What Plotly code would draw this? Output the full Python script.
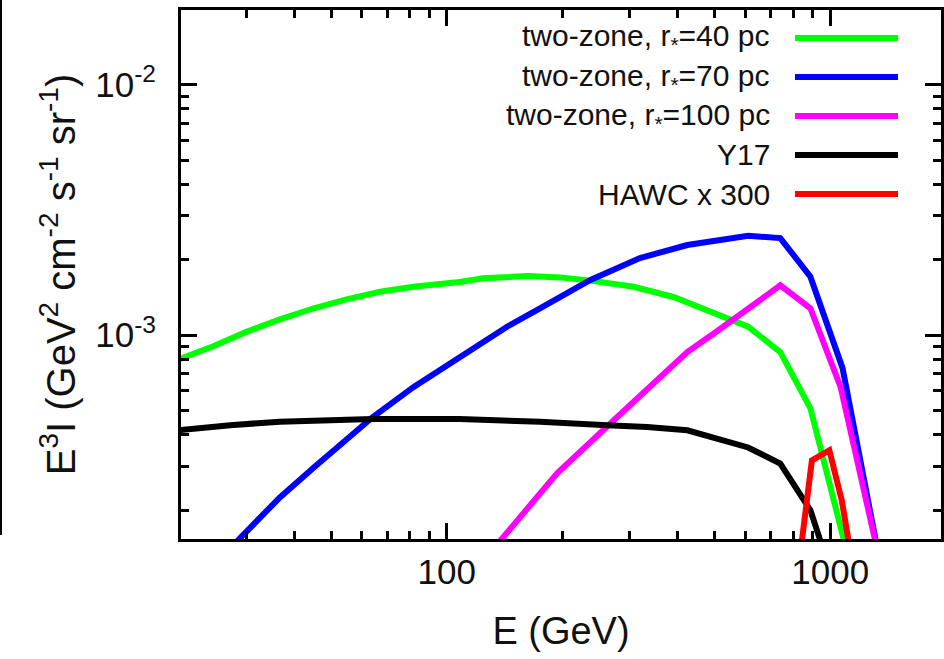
import plotly.graph_objects as go

# ---- data ----
green_x = [20, 24.6, 30, 36.7, 45, 54.8, 67, 81.8, 108, 124.6, 162, 197.6, 237, 307, 390, 516, 611, 741, 888, 1114]
green_y = [8.0e-4, 9.03e-4, 1.03e-3, 1.156e-3, 1.28e-3, 1.39e-3, 1.49e-3, 1.56e-3, 1.63e-3, 1.686e-3,
           1.72e-3, 1.70e-3, 1.65e-3, 1.56e-3, 1.42e-3, 1.20e-3, 1.08e-3, 8.55e-4, 5.1e-4, 1.3e-4]

blue_x = [27, 36.7, 45, 54.8, 64, 81.8, 108, 143.6, 175, 237, 319, 424, 611, 741, 888, 1077, 1340]
blue_y = [1.39e-4, 2.25e-4, 2.96e-4, 3.86e-4, 4.70e-4, 6.2e-4, 8.2e-4, 1.08e-3, 1.28e-3, 1.66e-3,
          2.03e-3, 2.29e-3, 2.49e-3, 2.44e-3, 1.71e-3, 7.38e-4, 1.3e-4]

magenta_x = [127, 194, 278, 424, 513, 741, 888, 1065, 1340]
magenta_y = [1.3e-4, 2.81e-4, 4.70e-4, 8.55e-4, 1.05e-3, 1.58e-3, 1.28e-3, 6.19e-4, 1.3e-4]

black_x = [20, 27.2, 36.7, 49.7, 64, 108, 130, 175, 262, 333, 424, 516, 611, 741, 888, 990]
black_y = [4.17e-4, 4.37e-4, 4.51e-4, 4.57e-4, 4.62e-4, 4.62e-4, 4.6e-4, 4.51e-4, 4.37e-4, 4.30e-4,
           4.17e-4, 3.85e-4, 3.56e-4, 3.07e-4, 2.0e-4, 1.2e-4]

red_x = [828, 896, 995, 1072, 1145]
red_y = [1.2e-4, 3.16e-4, 3.47e-4, 2.19e-4, 1.2e-4]

series_labels = [
    "two-zone, r<sub>*</sub>=40 pc",
    "two-zone, r<sub>*</sub>=70 pc",
    "two-zone, r<sub>*</sub>=100 pc",
    "Y17",
    "HAWC x 300",
]
series_colors = ["#00ff00", "#0000ff", "#ff00ff", "#000000", "#ff0000"]
series_x = [green_x, blue_x, magenta_x, black_x, red_x]
series_y = [green_y, blue_y, magenta_y, black_y, red_y]

x_tick_vals = [100, 1000]
x_tick_text = ["100", "1000"]
y_tick_vals = [1e-3, 1e-2]
y_tick_text = ["10<sup>-3</sup>", "10<sup>-2</sup>"]

FONT = "Liberation Sans, Arial, sans-serif"
TXT = "#111111"

fig = go.Figure()
for lab, xs, ys, col in zip(series_labels, series_x, series_y, series_colors):
    fig.add_trace(go.Scatter(x=xs, y=ys, mode="lines", name=lab,
                             line=dict(color=col, width=6), showlegend=False))

axis_common = dict(
    showline=True, linewidth=3, linecolor="black", mirror="allticks",
    ticks="inside", ticklen=16, tickwidth=3, tickcolor="black",
    showgrid=False, zeroline=False,
    tickfont=dict(family=FONT, size=35, color=TXT),
    minor=dict(ticks="inside", ticklen=8, tickwidth=3, tickcolor="black",
               dtick="D1", showgrid=False),
)

fig.update_xaxes(
    type="log", range=[1.3068, 3.289],
    tickmode="array", tickvals=x_tick_vals, ticktext=x_tick_text,
    title=dict(text="E (GeV)", font=dict(family=FONT, size=38, color=TXT), standoff=28),
    **axis_common,
)
fig.update_yaxes(
    type="log", range=[-3.814, -1.702],
    tickmode="array", tickvals=y_tick_vals, ticktext=y_tick_text,
    ticklabelstandoff=15,
    title=dict(text="E<sup>3</sup>I (GeV<sup>2</sup> cm<sup>-2</sup> s<sup>-1</sup> sr<sup>-1</sup>)",
               font=dict(family=FONT, size=40, color=TXT), standoff=8),
    **axis_common,
)

# manual legend: right-aligned text with line sample on the right
L, R, T, B = 181, 3, 10, 120
W, H = 944 - L - R, 659 - T - B
def px_x(p):
    return (p - L) / W
def px_y(p):
    return (659 - B - p) / H

row0, drow = 38, 39
shapes = []
annotations = []
for i, (lab, col) in enumerate(zip(series_labels, series_colors)):
    yy = px_y(row0 + i * drow)
    annotations.append(dict(x=px_x(772), y=yy, xref="paper", yref="paper",
                            text=lab, showarrow=False, xanchor="right", yanchor="middle",
                            font=dict(family=FONT, size=30, color=TXT)))
    shapes.append(dict(type="line", xref="paper", yref="paper",
                       x0=px_x(795), x1=px_x(898), y0=yy, y1=yy,
                       line=dict(color=col, width=6)))
# thin border line at the far left of the picture
shapes.append(dict(type="line", xref="paper", yref="paper",
                   x0=px_x(1), x1=px_x(1), y0=px_y(0), y1=px_y(535),
                   line=dict(color="black", width=2)))

fig.update_layout(
    width=944, height=659,
    margin=dict(l=L, r=R, t=T, b=B, autoexpand=False),
    paper_bgcolor="white", plot_bgcolor="white",
    shapes=shapes, annotations=annotations,
    showlegend=False,
)

fig.write_html("out.html")
